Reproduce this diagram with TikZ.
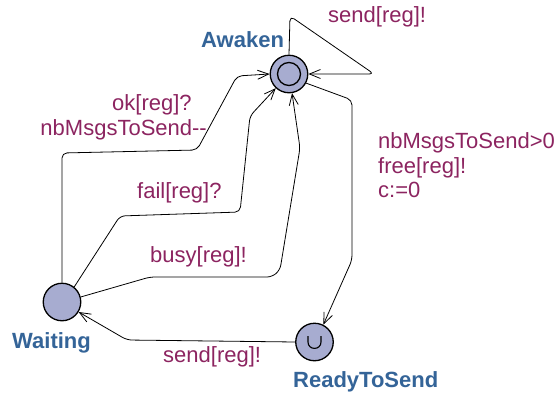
\documentclass[tikz,border=0pt]{standalone}
\usepackage{fontspec}
\setmainfont{Liberation Sans}
\usetikzlibrary{arrows.meta}
\definecolor{lblc}{RGB}{140,36,96}
\definecolor{locc}{RGB}{52,100,152}
\definecolor{fillc}{RGB}{167,172,208}
\begin{document}
\begin{tikzpicture}[x=1pt,y=-1pt,
  loc/.style={circle,draw,line width=1.3pt,fill=fillc,minimum size=37.5pt,inner sep=0pt},
  locname/.style={anchor=base west,inner sep=0pt,text=locc,font=\fontsize{22}{24}\selectfont\bfseries},
  lbl/.style={anchor=base west,inner sep=0pt,text=lblc,font=\fontsize{22}{24.5}\selectfont},
  edge/.style={draw,line width=0.8pt,rounded corners=5pt,-{Straight Barb[length=11pt,width=9pt,line width=0.8pt]}}
]
\useasboundingbox (0,0) rectangle (558,394);

% locations
\node[loc] (A) at (289,74) {};
\draw[line width=1.3pt] (A.center) circle (11.5pt);
\node[loc] (W) at (62,302) {};
\node[loc] (R) at (314.5,342) {};
\draw[line width=1.1pt] (308,336) -- (308,342) .. controls (308,350.5) and (321,350.5) .. (321,342) -- (321,336);

% location names
\node[locname] (nA) at (201,47) {Awaken};
\node[locname] (nW) at (12,348) {Waiting};
\node[locname] (nR) at (293,387) {ReadyToSend};

% edges
\coordinate (l1) at (290,16);
\coordinate (l2) at (374,74);
\draw[edge] (A.north) -- (l1) -- (l2) -- (A.east);

\draw[edge] (W.north) -- (62,153) -- (197,150) -- (237,76) -- (A.west);
\draw[edge] (W.51) -- (120,216) -- (240,212) -- (250,116) -- (A.227);
\draw[edge] (W.15) -- (150,277) -- (272,277) -- (280,270) -- (300,148) -- (A.279);
\draw[edge] (A.332) -- (352,100) -- (352,260) -- (R.63);
\draw[edge] (R.west) -- (127,340) -- (W.329);

% labels
\node[lbl] (t1) at (328,22) {send[reg]!};
\node[lbl] (t2) at (112,110) {ok[reg]?};
\node[lbl,anchor=base east] (t3) at (207,135) {nbMsgsToSend{-}{-}};
\node[lbl] (t4) at (137,198) {fail[reg]?};
\node[lbl] (t5) at (150,262) {busy[reg]!};
\node[lbl] (t6a) at (378,148.5) {nbMsgsToSend>0};
\node[lbl] (t6b) at (378,173) {free[reg]!};
\node[lbl] (t6c) at (378,197.5) {c:=0};
\node[lbl] (t7) at (163,362) {send[reg]!};
\end{tikzpicture}
\end{document}
